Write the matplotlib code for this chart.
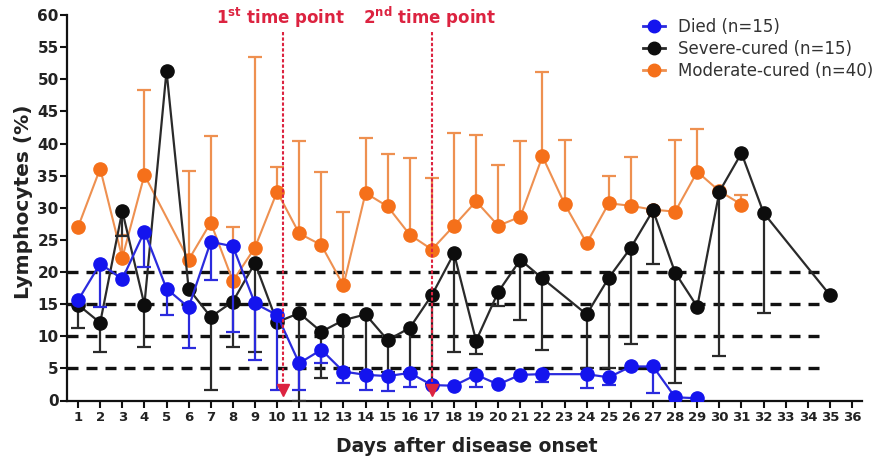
import matplotlib
matplotlib.use('Agg')
import matplotlib.pyplot as plt
from matplotlib.lines import Line2D

plt.rcParams['font.family'] = ['DejaVu Sans']
plt.rcParams['mathtext.fontset'] = 'dejavusans'

# ---------------- data ----------------
died_days = list(range(1, 23)) + list(range(24, 30))
died_vals = [15.6, 21.3, 18.9, 26.3, 17.4, 14.5, 24.7, 24.0, 15.1, 13.3, 5.8, 7.9,
             4.5, 4.0, 3.8, 4.3, 2.4, 2.3, 4.0, 2.5, 4.0, 4.1, 4.1, 3.6, 5.3, 5.3,
             0.5, 0.35]
died_low = [None, 14.6, None, 20.8, 13.3, 8.2, 18.8, 10.7, 6.3, 1.7, 1.7, 5.8,
            2.7, 1.6, 1.5, 2.1, None, None, 2.1, None, None, 2.9, 2.0, 2.4, None,
            1.1, None, None]

severe_days = list(range(1, 23)) + list(range(24, 33)) + [35]
severe_vals = [14.9, 12.1, 29.5, 14.9, 51.3, 17.4, 13.0, 15.4, 21.4, 12.2, 13.6,
               10.7, 12.5, 13.4, 9.4, 11.3, 16.4, 22.9, 9.3, 16.9, 21.9, 19.0,
               13.4, 19.1, 23.8, 29.6, 19.9, 14.6, 32.5, 38.5, 29.2, 16.4]
severe_low = [11.3, 7.5, 25.6, 8.4, None, None, 1.7, 8.4, 7.6, None, 0.0, 3.5,
              5.0, 4.5, 4.5, 4.5, 2.5, 7.5, 7.2, 14.7, 12.5, 7.9,
              5.0, 5.0, 8.8, 21.2, 2.7, None, 6.9, None, 13.6, None]

moderate_days = [1, 2, 3, 4] + list(range(6, 32))
moderate_vals = [27.0, 36.1, 22.2, 35.1, 21.9, 27.7, 18.6, 23.8, 32.5, 26.0, 24.2,
                 17.9, 32.3, 30.2, 25.8, 23.5, 27.2, 31.0, 27.2, 28.6, 38.0, 30.6,
                 24.5, 30.7, 30.3, 29.7, 29.4, 35.6, 32.6, 30.5]
moderate_high = [None, None, 25.7, 48.4, 35.7, 41.2, 27.0, 53.4, 36.4, 40.4, 35.5,
                 29.3, 40.9, 38.3, 37.7, 34.6, 41.6, 41.4, 36.7, 40.4, 51.2, 40.6,
                 None, 35.0, 37.9, None, 40.5, 42.2, None, 32.0]

series_labels = ['Died (n=15)', 'Severe-cured (n=15)', 'Moderate-cured (n=40)']
ref_levels = [5, 10, 15, 20]
timepoint_days = [10.25, 17.0]
timepoint_texts = [r'1$^{\mathbf{st}}$ time point', r'2$^{\mathbf{nd}}$ time point']
x_ticks = list(range(1, 37))
y_ticks = list(range(0, 61, 5))

# ---------------- figure ----------------
W, H = 886, 459
fig = plt.figure(figsize=(W / 100, H / 100), dpi=100)
L, R, B, T = 67, 862, 400.5, 15
ax = fig.add_axes([L / W, 1 - B / H, (R - L) / W, (B - T) / H])
ax.set_xlim(0.5, 36.45)
ax.set_ylim(0, 60)

for lv in ref_levels:
    ax.plot([0.5, 34.5], [lv, lv], color='#111111', lw=2.4,
            ls=(0, (3.3, 2.4)), zorder=2, solid_capstyle='butt')

RED = '#DC2340'


def draw_series(days, vals, ends, line_c, mark_c, z, lw=1.6):
    ax.plot(days, vals, color=line_c, lw=lw, zorder=z)
    for d, v, e in zip(days, vals, ends):
        if e is None:
            continue
        ax.vlines(d, min(v, e), max(v, e), color=line_c, lw=1.6, zorder=z)
        ax.plot([d], [e], marker='_', ms=10, mew=1.6, color=line_c, zorder=z)
    ax.plot(days, vals, ls='none', marker='o', ms=9.5, color=mark_c,
            mec=mark_c, zorder=z + 0.5)


draw_series(moderate_days, moderate_vals, moderate_high, '#EE9050', '#F5701A', 3, lw=1.5)
draw_series(severe_days, severe_vals, severe_low, '#2a2a2a', '#0d0d0d', 4)
draw_series(died_days, died_vals, died_low, '#2B2BDD', '#1414EE', 5)

for d, txt in zip(timepoint_days, timepoint_texts):
    ax.plot([d, d], [57.4, 2.2], color=RED, lw=1.5, ls=(0, (1.6, 1.0)), zorder=7)
    ax.plot([d], [1.7], marker='v', ms=8, color=RED, zorder=7, clip_on=False)
    ax.text(d - 0.1, 58.6, txt, ha='center', va='baseline', color=RED,
            fontsize=12, fontweight='bold', clip_on=False)

# axes styling
for s in ['top', 'right']:
    ax.spines[s].set_visible(False)
for s in ['left', 'bottom']:
    ax.spines[s].set_linewidth(1.6)
    ax.spines[s].set_color('#111111')

ax.set_xticks(x_ticks)
ax.set_yticks(y_ticks)
ax.tick_params(axis='both', direction='out', length=5, width=1.5, colors='#111111')
ax.tick_params(axis='x', labelsize=9.5, pad=2.5)
ax.tick_params(axis='y', labelsize=11, pad=1)
for lbl in ax.get_xticklabels() + ax.get_yticklabels():
    lbl.set_fontweight('bold')
    lbl.set_color('#222222')

ax.set_xlabel('Days after disease onset', fontsize=13.5, fontweight='bold', color='#222222')
ax.xaxis.set_label_coords(0.503, -0.0947)
ax.set_ylabel('Lymphocytes (%)', fontsize=14.5, fontweight='bold', color='#222222')
ax.yaxis.set_label_coords(-0.043, 0.516)

handles = [
    Line2D([], [], color='#2B2BDD', lw=2, marker='o', ms=9, mfc='#1414EE', mec='#1414EE'),
    Line2D([], [], color='#2a2a2a', lw=2, marker='o', ms=9, mfc='#0d0d0d', mec='#0d0d0d'),
    Line2D([], [], color='#EE9050', lw=2, marker='o', ms=9, mfc='#F5701A', mec='#F5701A'),
]
leg = fig.legend(handles, series_labels, loc='upper left',
                 bbox_to_anchor=(643 / W, 1 - 18 / H), frameon=False, fontsize=12,
                 handlelength=1.3, handletextpad=0.8, labelspacing=0.25,
                 borderpad=0, borderaxespad=0)
for t in leg.get_texts():
    t.set_color('#333333')

fig.savefig('out.png', dpi=100)
